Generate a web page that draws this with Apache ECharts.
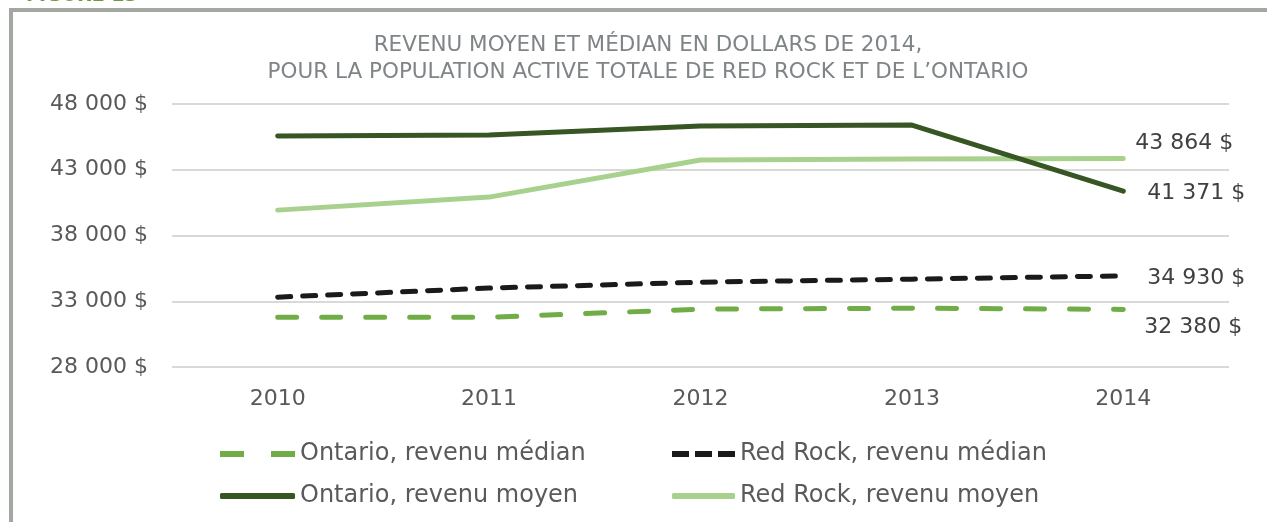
<!DOCTYPE html>
<html><head><meta charset="utf-8">
<script src="https://cdn.jsdelivr.net/npm/echarts@6/dist/echarts.min.js"></script>
<style>html,body{margin:0;padding:0;background:#fff;}#c{width:1267px;height:522px;}</style>
</head><body><div id="c"></div>
<script>
const years = ['2010', '2011', '2012', '2013', '2014'];
const ontarioMedian = [31790, 31780, 32400, 32470, 32380];
const redRockMedian = [33310, 34000, 34450, 34680, 34930];
const ontarioMoyen = [45570, 45640, 46330, 46400, 41371];
const redRockMoyen = [39930, 40920, 43740, 43810, 43864];
const yTicks = [28000, 33000, 38000, 43000, 48000];
const titleLines = ['REVENU MOYEN ET MÉDIAN EN DOLLARS DE 2014,', 'POUR LA POPULATION ACTIVE TOTALE DE RED ROCK ET DE L\u2019ONTARIO'];
const names = ['Ontario, revenu médian', 'Red Rock, revenu médian', 'Ontario, revenu moyen', 'Red Rock, revenu moyen'];

const FONT = 'DejaVu Sans';
function fmt(v){ return String(Math.round(v)).replace(/\B(?=(\d{3})+(?!\d))/g, ' ') + ' $'; }

function endLabel(offset){
  return {
    show: true,
    offset: offset,
    color: '#404040',
    fontFamily: FONT,
    fontSize: 22,
    formatter: function(p){ return fmt(p.value); }
  };
}

const chart = echarts.init(document.getElementById('c'));
chart.setOption({
  animation: false,
  backgroundColor: '#fff',
  title: {
    text: titleLines.join('\n'),
    left: 643, top: 27, textAlign: 'center',
    textStyle: { color: '#7f8487', fontFamily: FONT, fontWeight: 'normal', fontSize: 21.5, lineHeight: 27 }
  },
  graphic: [
    { type: 'rect', shape: { x: 11, y: 10, width: 1400, height: 700 }, style: { fill: 'none', stroke: '#a2a7a2', lineWidth: 4 }, silent: true },
    { type: 'text', x: 26, y: -13, style: { text: 'FIGURE 13', fill: '#6a9b3f', font: 'bold 19px ' + FONT }, silent: true }
  ],
  grid: { left: 172, right: 38, top: 104, bottom: 155 },
  xAxis: {
    type: 'category', data: years, boundaryGap: true,
    axisLine: { show: false }, axisTick: { show: false },
    axisLabel: { color: '#595959', fontFamily: FONT, fontSize: 22, margin: 21 }
  },
  yAxis: {
    type: 'value', min: yTicks[0], max: yTicks[yTicks.length - 1], interval: 5000,
    axisLine: { show: false }, axisTick: { show: false },
    axisLabel: { color: '#595959', fontFamily: FONT, fontSize: 22, margin: 24, formatter: fmt },
    splitLine: { lineStyle: { color: '#d9d9d9', width: 2 } }
  },
  legend: [
    { data: [
        { name: names[0], icon: 'path://M0 0H24V6H0Z M51 0H75V6H51Z' },
        { name: names[2], icon: 'roundRect' }
      ],
      orient: 'vertical', left: 215, top: 437, itemWidth: 75, itemHeight: 6, itemGap: 18, itemTextGap: 3,
      textStyle: { color: '#5a5a5a', fontFamily: FONT, fontSize: 24 } },
    { data: [
        { name: names[1], icon: 'path://M0 0H17V6H0Z M23 0H40V6H23Z M46 0H63V6H46Z' },
        { name: names[3], icon: 'roundRect' }
      ],
      orient: 'vertical', left: 667, top: 437, itemWidth: 63, itemHeight: 6, itemGap: 18, itemTextGap: 5,
      textStyle: { color: '#5a5a5a', fontFamily: FONT, fontSize: 24 } }
  ],
  series: [
    { name: names[0], type: 'line', data: ontarioMedian, symbol: 'none', z: 3,
      lineStyle: { color: '#70ad47', width: 5, type: [19, 25], cap: 'round' }, itemStyle: { color: '#70ad47' },
      endLabel: endLabel([13, 18]) },
    { name: names[1], type: 'line', data: redRockMedian, symbol: 'none', z: 4,
      lineStyle: { color: '#1a1a1a', width: 5, type: [13, 12], cap: 'round' }, itemStyle: { color: '#1a1a1a' },
      endLabel: endLabel([16, 2]) },
    { name: names[2], type: 'line', data: ontarioMoyen, symbol: 'none', z: 5,
      lineStyle: { color: '#375623', width: 5, cap: 'round' }, itemStyle: { color: '#375623' },
      endLabel: endLabel([16, 2]) },
    { name: names[3], type: 'line', data: redRockMoyen, symbol: 'none', z: 2,
      lineStyle: { color: '#a9d18e', width: 5, cap: 'round' }, itemStyle: { color: '#a9d18e' },
      endLabel: endLabel([4, -15]) }
  ]
});
</script></body></html>
